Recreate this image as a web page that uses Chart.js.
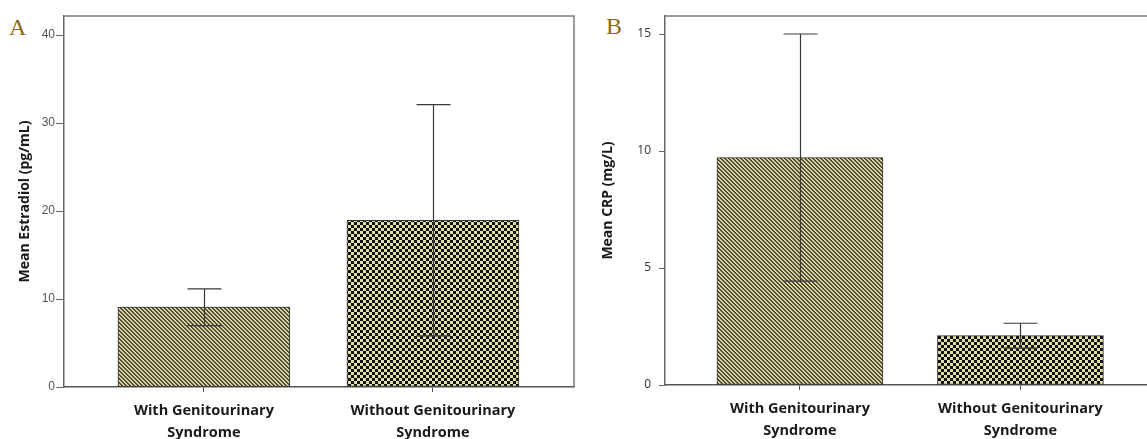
<!DOCTYPE html>
<html>
<head>
<meta charset="utf-8">
<script src="https://cdn.jsdelivr.net/npm/chart.js@4.4.1/dist/chart.umd.min.js"></script>
<style>
  body { margin: 0; background: #fff; width: 1147px; height: 439px; overflow: hidden; position: relative; }
  .panel { position: absolute; top: 0; }
  .letter { position: absolute; font-family: "Liberation Serif", serif; font-size: 24px; line-height: 1; color: #8c6a12; }
</style>
</head>
<body>
<div class="letter" style="left:9px; top:15px;">A</div>
<div class="letter" style="left:606px; top:14px;">B</div>
<canvas id="chartA" class="panel" style="left:0px" width="590" height="439"></canvas>
<canvas id="chartB" class="panel" style="left:590px" width="557" height="439"></canvas>
<script>
// groups shown on both panels
const groupLabels = [['With Genitourinary', 'Syndrome'], ['Without Genitourinary', 'Syndrome']];

// panel A - estradiol (pg/mL)
const estradiolMean = [9.07, 18.95];
const estradiolLow = [6.97, 5.8];
const estradiolHigh = [11.14, 32.1];
const estradiolTicks = [0, 10, 20, 30, 40];

// panel B - CRP (mg/L)
const crpMean = [9.72, 2.11];
const crpLow = [4.44, 1.58];
const crpHigh = [15.0, 2.64];
const crpTicks = [0, 5, 10, 15];

function stripes() {
  const c = document.createElement('canvas');
  c.width = c.height = 4;
  const g = c.getContext('2d');
  g.fillStyle = '#d8d3a0';
  g.fillRect(0, 0, 4, 4);
  g.fillStyle = '#504c36';
  for (let i = 0; i < 4; i++) {
    g.fillRect(i, i, 1, 1);
    g.fillRect((i + 1) % 4, i, 1, 1);
  }
  return g.createPattern(c, 'repeat');
}

function checker() {
  const c = document.createElement('canvas');
  c.width = c.height = 6;
  const g = c.getContext('2d');
  g.fillStyle = '#e0dfa6';
  g.fillRect(0, 0, 6, 6);
  g.fillStyle = '#111';
  g.fillRect(0, 0, 3, 3);
  g.fillRect(3, 3, 3, 3);
  return g.createPattern(c, 'repeat');
}

// error bars + frame, drawn from the scales
const errorBars = {
  id: 'errorBars',
  afterDatasetsDraw(chart, args, opts) {
    const ctx = chart.ctx;
    const y = chart.scales.y;
    const meta = chart.getDatasetMeta(0);
    ctx.save();
    ctx.strokeStyle = '#3a3a3a';
    ctx.lineWidth = 1.2;
    meta.data.forEach((bar, i) => {
      const x = Math.round(bar.x) + 0.5;
      const lo = y.getPixelForValue(opts.low[i]);
      const hi = y.getPixelForValue(opts.high[i]);
      ctx.beginPath();
      ctx.moveTo(x, lo); ctx.lineTo(x, hi);
      ctx.moveTo(x - 17, hi); ctx.lineTo(x + 17, hi);
      ctx.moveTo(x - 17, lo); ctx.lineTo(x + 17, lo);
      ctx.stroke();
    });
    // top / right edges of the frame
    const a = chart.chartArea;
    ctx.strokeStyle = '#7a7a7a';
    ctx.lineWidth = 1.5;
    ctx.beginPath();
    ctx.moveTo(a.left, a.top); ctx.lineTo(a.right, a.top);
    if (opts.rightEdge) ctx.lineTo(a.right, a.bottom);
    ctx.stroke();
    ctx.restore();
  }
};

function makeChart(id, opt) {
  const data = {
    datasets: [{
      data: opt.mean.map((v, i) => ({ x: i, y: v })),
      backgroundColor: [stripes(), checker()],
      borderColor: '#333',
      borderWidth: 1,
      borderSkipped: false,
      barThickness: opt.barWidth
    }]
  };
  return new Chart(document.getElementById(id), {
    type: 'bar',
    data: data,
    plugins: [errorBars],
    options: {
      responsive: false,
      animation: false,
      layout: { padding: { top: 16, right: opt.padRight, left: 0, bottom: 0 } },
      plugins: {
        legend: { display: false },
        tooltip: { enabled: false },
        errorBars: { low: opt.low, high: opt.high, rightEdge: opt.rightEdge }
      },
      scales: {
        x: {
          type: 'linear',
          min: opt.xMin,
          max: opt.xMax,
          offset: false,
          afterBuildTicks: s => { s.ticks = groupLabels.map((_, i) => ({ value: i })); },
          afterFit: s => { s.height = opt.xHeight; },
          grid: { drawOnChartArea: false, offset: false, tickLength: 5, color: '#555' },
          border: { color: '#555', width: 1.5 },
          ticks: {
            callback: v => groupLabels[v],
            autoSkip: false,
            maxRotation: 0,
            padding: 7,
            color: '#1a1a1a',
            font: { family: 'Open Sans', weight: 'bold', size: 14.5, lineHeight: 1.57 }
          }
        },
        y: {
          min: 0,
          max: opt.yMax,
          afterBuildTicks: s => { s.ticks = opt.ticks.map(v => ({ value: v })); },
          afterFit: s => { s.width = opt.yWidth; },
          grid: { drawOnChartArea: false, tickLength: opt.tickLen, color: '#666' },
          border: { color: '#666', width: 1.5 },
          ticks: { padding: opt.tickPad, color: opt.tickColor, font: opt.tickFont },
          title: {
            display: true,
            text: opt.title,
            color: '#1a1a1a',
            font: { family: 'Open Sans', weight: 'bold', size: 14 },
            padding: { top: opt.titlePad, bottom: 0 }
          }
        }
      }
    }
  });
}

makeChart('chartA', {
  mean: estradiolMean, low: estradiolLow, high: estradiolHigh, ticks: estradiolTicks,
  title: 'Mean Estradiol (pg/mL)',
  yMax: 42.16, xMin: -0.611, xMax: 1.616,
  yWidth: 64, xHeight: 52, padRight: 16, barWidth: 172,
  tickLen: 8, tickPad: 1, tickColor: '#555', tickFont: { family: 'Liberation Sans', size: 12 },
  titlePad: 16.6, rightEdge: true
});

makeChart('chartB', {
  mean: crpMean, low: crpLow, high: crpHigh, ticks: crpTicks,
  title: 'Mean CRP (mg/L)',
  yMax: 15.77, xMin: -0.612, xMax: 1.574,
  yWidth: 75, xHeight: 54, padRight: 0, barWidth: 166,
  tickLen: 6, tickPad: 8, tickColor: '#333', tickFont: { family: 'Open Sans', size: 12 },
  titlePad: 9.6, rightEdge: false
});
</script>
</body>
</html>
